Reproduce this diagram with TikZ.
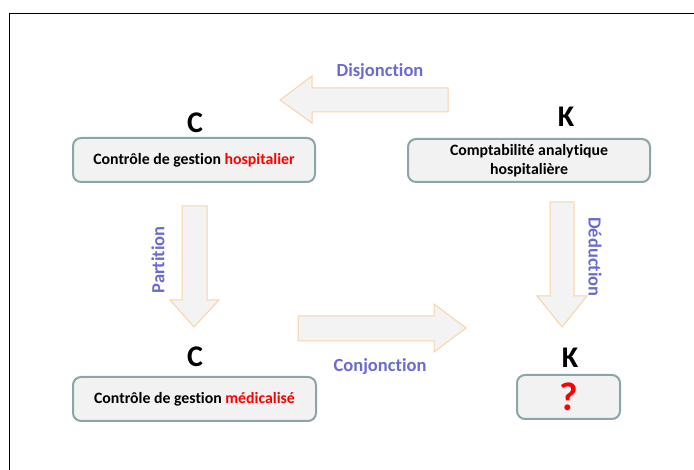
\documentclass[tikz,border=0pt]{standalone}
\usepackage{fontspec}
\setmainfont{Carlito}[Ligatures={NoCommon}]
\begin{document}
\begin{tikzpicture}[x=1pt,y=-1pt,
  box/.style={draw=boxedge,fill=boxfill,line width=2pt,rounded corners=8pt,
    align=center,font=\bfseries\fontsize{15.8}{18.5}\selectfont,inner sep=2pt},
  letter/.style={font=\bfseries\fontsize{30}{32}\selectfont},
  blockarrow/.style={draw=arrowedge,fill=arrowfill,line width=1pt,line join=miter},
  lbl/.style={text=lblcol,font=\bfseries\fontsize{18.5}{20}\selectfont}]
\definecolor{boxedge}{HTML}{8CA5A8}
\definecolor{boxfill}{HTML}{F2F2F2}
\definecolor{arrowedge}{HTML}{FBD3A5}
\definecolor{arrowfill}{HTML}{F3F3F3}
\definecolor{lblcol}{HTML}{6B6BCF}
\definecolor{hot}{HTML}{FF0000}
\useasboundingbox (0,0) rectangle (694,470);
% outer frame, open to the right and bottom
\draw[line width=1.6pt] (9.5,480) -- (9.5,13.5) -- (704,13.5);

% boxes
\node[box,minimum width=242pt,minimum height=44pt] (cg) at (194,160)
  {Contrôle de gestion \textcolor{hot}{hospitalier}};
\node[box,minimum width=242pt,minimum height=43pt] (ca) at (529,160.5)
  {Comptabilité analytique\\hospitalière};
\node[box,minimum width=243pt,minimum height=44pt] (cm) at (194.5,399)
  {Contrôle de gestion \textcolor{hot}{médicalisé}};
\node[box,minimum width=103pt,minimum height=44pt] (q) at (568.5,397)
  {\textcolor{hot}{\fontsize{40}{40}\selectfont ?}};

% C / K letters
\node[letter] (c1) at (195,123) {C};
\node[letter] (k1) at (566,117) {K};
\node[letter] (c2) at (195,357) {C};
\node[letter] (k2) at (570,358) {K};

% block arrows
\draw[blockarrow] (448,88) -- (312,88) -- (312,76) -- (280,100) -- (312,123)
  -- (312,112) -- (448,112) -- cycle;
\draw[blockarrow] (182,206) -- (207,206) -- (207,300) -- (219,300) -- (194,327)
  -- (170,300) -- (182,300) -- cycle;
\draw[blockarrow] (550,202) -- (574,202) -- (574,296) -- (587,296) -- (562,327)
  -- (537,296) -- (550,296) -- cycle;
\draw[blockarrow] (298,316) -- (434,316) -- (434,304) -- (466,328) -- (434,352)
  -- (434,341) -- (298,341) -- cycle;

% arrow labels
\node[lbl] (dis) at (380,72) {Disjonction};
\node[lbl,rotate=90] (par) at (158,260) {Partition};
\node[lbl,rotate=-90] (ded) at (595,257) {Déduction};
\node[lbl] (con) at (380,367) {Conjonction};
\end{tikzpicture}
\end{document}
